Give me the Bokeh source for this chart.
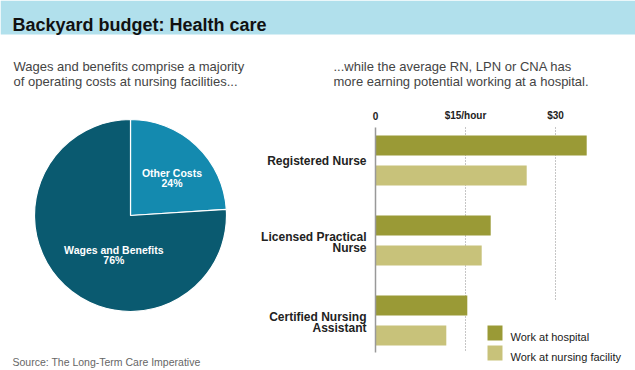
import math
from bokeh.plotting import figure
from bokeh.models import Range1d
from bokeh.core.properties import value
from bokeh.embed import file_html
from bokeh.resources import INLINE

# ---------------- data ----------------
title = "Backyard budget: Health care"
left_sub = ["Wages and benefits comprise a majority",
            "of operating costs at nursing facilities..."]
right_sub = ["...while the average RN, LPN or CNA has",
             "more earning potential working at a hospital."]
source_note = "Source: The Long-Term Care Imperative"

pie_labels = ["Other Costs", "Wages and Benefits"]
pie_shares = [24, 76]

occupations = [["Registered Nurse"],
               ["Licensed Practical", "Nurse"],
               ["Certified Nursing", "Assistant"]]
hospital_wage = [35.2, 19.2, 15.3]
facility_wage = [25.2, 17.7, 11.8]
wage_ticks = [0, 15, 30]
wage_tick_labels = ["0", "$15/hour", "$30"]
series_names = ["Work at hospital", "Work at nursing facility"]

# ---------------- styles ----------------
FONT = value("Liberation Sans")
W, H = 635, 370
HEADER = "#b1e0ec"
PIE_COLORS = ["#148aaf", "#0a5a70"]
BAR_COLORS = ["#9a9a36", "#c8c27a"]


def Y(y_down):
    return H - y_down


p = figure(width=W, height=H, x_range=Range1d(0, W), y_range=Range1d(0, H),
           output_backend="svg", toolbar_location=None,
           x_axis_type=None, y_axis_type=None, min_border=0,
           outline_line_color=None, background_fill_color="white")

# header band + title
p.quad(left=0, right=W, bottom=Y(34), top=H, color=HEADER, line_color=None)
p.text(x=[12], y=[Y(24.5)], text=[title], text_font=FONT, text_font_style="bold",
       text_font_size="18px", text_baseline="alphabetic", text_color="#111111")

# subtitles
p.text(x=[13, 13], y=[Y(65.5), Y(81)], text=left_sub, text_font=FONT,
       text_font_size="13px", text_baseline="alphabetic", text_color="#444444")
p.text(x=[333, 333], y=[Y(65.5), Y(81)], text=right_sub, text_font=FONT,
       text_font_size="13px", text_baseline="alphabetic", text_color="#444444")

# source
p.text(x=[12], y=[Y(361)], text=[source_note], text_font=FONT,
       text_font_size="10.5px", text_baseline="alphabetic", text_color="#666666")

# ---------------- pie ----------------
cx, cy, r = 130, Y(215), 96
start = math.pi / 2
total = sum(pie_shares)
for share, col in zip(pie_shares, PIE_COLORS):
    end = start - 2 * math.pi * share / total
    p.wedge(x=[cx], y=[cy], radius=r, start_angle=[start], end_angle=[end],
            direction="clock", fill_color=col, line_color="white", line_width=1.2)
    start = end

pie_label_pos = [(171.5, 172, 182), (113.3, 249, 259.3)]
for lab, share, (lx, y1, y2) in zip(pie_labels, pie_shares, pie_label_pos):
    p.text(x=[lx, lx], y=[Y(y1), Y(y2)], text=[lab, f"{share}%"], text_font=FONT,
           text_font_style="bold", text_font_size="10.5px", text_align="center",
           text_baseline="alphabetic", text_color="white")

# ---------------- bars ----------------
X0, PX_PER = 375, 6.0          # pixel of zero, pixels per dollar
G0, PITCH = 160, 80            # pixel centre of first group, pixels per group
p.extra_x_ranges = {"wage": Range1d(-X0 / PX_PER, (W - X0) / PX_PER)}
p.extra_y_ranges = {"occ": Range1d((H - G0) / PITCH, -G0 / PITCH)}


def C(y_down):
    return (y_down - G0) / PITCH


# grid lines (dotted) and zero axis
grid_bottom = {15: 350, 30: 300}
gx = [t for t in wage_ticks if t != 0]
p.segment(x0=gx, x1=gx, y0=[C(127)] * len(gx), y1=[C(grid_bottom[t]) for t in gx],
          x_range_name="wage", y_range_name="occ",
          line_color="#8c8c8c", line_width=1, line_dash="1 2")

groups = list(range(len(occupations)))
bar_h = 20 / PITCH
off = 15 / PITCH
p.hbar(y=[g - off for g in groups], height=bar_h, left=0, right=hospital_wage,
       x_range_name="wage", y_range_name="occ", color=BAR_COLORS[0], line_color=None)
p.hbar(y=[g + off for g in groups], height=bar_h, left=0, right=facility_wage,
       x_range_name="wage", y_range_name="occ", color=BAR_COLORS[1], line_color=None)

p.segment(x0=[0], x1=[0], y0=[C(127)], y1=[C(352)], x_range_name="wage",
          y_range_name="occ", line_color="#999999", line_width=1.5)

# tick labels
p.text(x=wage_ticks, y=[C(115)] * len(wage_ticks), text=wage_tick_labels,
       x_range_name="wage", y_range_name="occ", text_font=FONT,
       text_font_style="bold", text_font_size="10px", text_align="center",
       text_baseline="alphabetic", text_color="#222222")

# category labels
lx, ly, lt = [], [], []
for g, lines in zip(groups, occupations):
    offs = [0.7] if len(lines) == 1 else [-4, 7.7]
    for line, o in zip(lines, offs):
        lx.append(-9 / PX_PER)
        ly.append(g + o / PITCH)
        lt.append(line)
p.text(x=lx, y=ly, text=lt, x_range_name="wage", y_range_name="occ",
       text_font=FONT, text_font_style="bold", text_font_size="12px",
       text_align="right", text_baseline="alphabetic", text_color="#222222")

# legend
for i, (name, col) in enumerate(zip(series_names, BAR_COLORS)):
    top = 325 + 20 * i
    p.quad(left=[487], right=[502], top=[Y(top)], bottom=[Y(top + 15)],
           color=col, line_color=None)
    p.text(x=[510], y=[Y(top + 11.3)], text=[name], text_font=FONT,
           text_font_size="11px", text_baseline="alphabetic", text_color="#1a1a1a")

open("out.html", "w").write(file_html(p, INLINE))
